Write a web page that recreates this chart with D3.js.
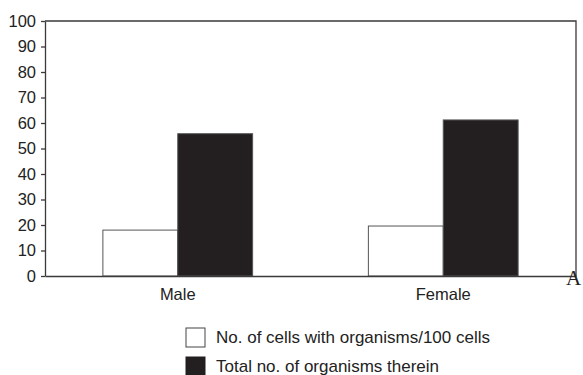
<!DOCTYPE html>
<html lang="en">
<head>
  <meta charset="UTF-8">
  <title>Organisms chart</title>
  <script src="https://cdn.jsdelivr.net/npm/d3@7/dist/d3.min.js"></script>
  <style>
    body { margin: 0; background: #fff; }
  </style>
</head>
<body>
  <div id="root"></div>
  <script>
    // data
    const categories = ['Male', 'Female'];
    const seriesNames = ['No. of cells with organisms/100 cells', 'Total no. of organisms therein'];
    const cellsWithOrganisms = [18, 19.6];
    const totalOrganisms = [55.8, 61.2];
    const yTicks = [0, 10, 20, 30, 40, 50, 60, 70, 80, 90, 100];

    const W = 583, H = 375;
    const plot = { left: 45, right: 576, top: 21, bottom: 276 };
    const fills = ['#ffffff', '#231f20'];

    const svg = d3.select('#root').append('svg')
      .attr('width', W)
      .attr('height', H)
      .style('font-family', 'Arial, "Liberation Sans", sans-serif');

    const x0 = d3.scaleBand()
      .domain(categories)
      .range([plot.left, plot.right])
      .paddingInner(0.436)
      .paddingOuter(0.218);

    const x1 = d3.scaleBand()
      .domain([0, 1])
      .range([0, x0.bandwidth()]);

    const y = d3.scaleLinear()
      .domain([0, 100])
      .range([plot.bottom, plot.top]);

    // frame (top + right)
    svg.append('path')
      .attr('d', `M${plot.left},${plot.top}H${plot.right}V${plot.bottom}`)
      .attr('fill', 'none')
      .attr('stroke', '#3a3a3a')
      .attr('stroke-width', 1.3);

    // bars
    const rows = categories.map((c, i) => ({ c, vals: [cellsWithOrganisms[i], totalOrganisms[i]] }));
    svg.append('g')
      .selectAll('g')
      .data(rows)
      .join('g')
      .attr('transform', d => `translate(${x0(d.c)},0)`)
      .selectAll('rect')
      .data(d => d.vals.map((v, k) => ({ v, k })))
      .join('rect')
      .attr('x', d => x1(d.k))
      .attr('y', d => y(d.v))
      .attr('width', x1.bandwidth())
      .attr('height', d => y(0) - y(d.v))
      .attr('fill', d => fills[d.k])
      .attr('stroke', '#555')
      .attr('stroke-width', 1);

    // y axis
    const yAxis = svg.append('g')
      .attr('transform', `translate(${plot.left},0)`)
      .call(d3.axisLeft(y).tickValues(yTicks).tickSize(4).tickSizeOuter(0).tickPadding(5));
    yAxis.selectAll('line, path').attr('stroke', '#3a3a3a').attr('stroke-width', 1.3);
    yAxis.selectAll('text').attr('font-size', 16.5).attr('fill', '#222').style('font-family', 'Arial, "Liberation Sans", sans-serif');

    // x axis
    const xAxis = svg.append('g')
      .attr('transform', `translate(0,${plot.bottom})`)
      .call(d3.axisBottom(x0).tickSize(0).tickSizeOuter(0).tickPadding(12));
    xAxis.select('path').attr('stroke', '#3a3a3a').attr('stroke-width', 1.3);
    xAxis.selectAll('text').attr('font-size', 16.5).attr('fill', '#222').style('font-family', 'Arial, "Liberation Sans", sans-serif');

    // panel letter
    svg.append('text')
      .attr('x', 566)
      .attr('y', 285)
      .attr('font-family', '"Liberation Serif", "Times New Roman", serif')
      .attr('font-size', 21)
      .attr('fill', '#222')
      .text('A');

    // legend
    const legend = svg.append('g').attr('transform', 'translate(186,328)');
    const items = legend.selectAll('g')
      .data(seriesNames)
      .join('g')
      .attr('transform', (d, i) => `translate(0,${i * 29})`);
    items.append('rect')
      .attr('width', 19)
      .attr('height', 19)
      .attr('fill', (d, i) => fills[i])
      .attr('stroke', (d, i) => i === 0 ? '#444' : fills[i]);
    items.append('text')
      .attr('x', 30)
      .attr('y', 15)
      .attr('font-size', 17)
      .attr('fill', '#222')
      .text(d => d);
  </script>
</body>
</html>
